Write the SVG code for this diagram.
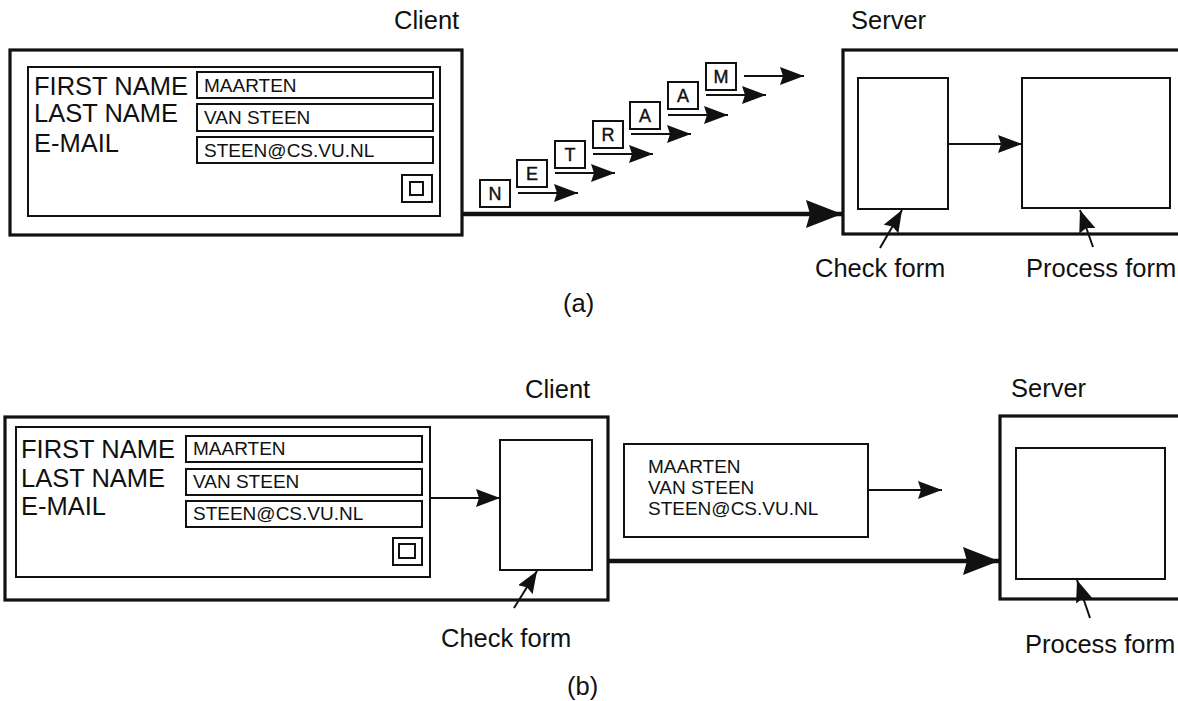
<svg xmlns="http://www.w3.org/2000/svg" width="1178" height="701" viewBox="0 0 1178 701">
<style>
text{font-family:"Liberation Sans",Arial,Helvetica,sans-serif;fill:#111}
.t24{font-size:25.5px}
.t18{font-size:19px}
.t17{font-size:18px;stroke:#111;stroke-width:0.4}
.bx3{fill:#fff;stroke:#111;stroke-width:3.2}
.bx2{fill:#fff;stroke:#111;stroke-width:2}
.ln{stroke:#111;stroke-width:2;fill:none}
.thick{stroke:#111;stroke-width:4.5;fill:none}
.lt{text-anchor:middle}
</style>
<defs>
<marker id="ah" markerUnits="userSpaceOnUse" markerWidth="24" markerHeight="18" refX="24" refY="9" orient="auto"><path d="M0,0 L24,9 L0,18 L3,9 Z" fill="#111"/></marker>
<marker id="big" markerUnits="userSpaceOnUse" markerWidth="36" markerHeight="28" refX="36" refY="14" orient="auto"><path d="M0,0 L36,14 L0,28 L4,14 Z" fill="#111"/></marker>
<marker id="ptr" markerUnits="userSpaceOnUse" markerWidth="22" markerHeight="17" refX="22" refY="8.5" orient="auto"><path d="M0,0 L22,8.5 L0,17 L3,8.5 Z" fill="#111"/></marker>
</defs>
<rect width="1178" height="701" fill="#fff"/>

<!-- ===== (a) ===== -->
<text class="t24" x="394" y="29">Client</text>
<text class="t24" x="851" y="29">Server</text>

<g id="a-client">
<rect class="bx3" x="10" y="50" width="452" height="185"/>
<rect class="bx2" x="28" y="67" width="412" height="149"/>
<text class="t24" x="34" y="95">FIRST NAME</text>
<text class="t24" x="34" y="122">LAST NAME</text>
<text class="t24" x="34" y="152">E-MAIL</text>
<rect class="bx2" x="197" y="72" width="236" height="26"/>
<rect class="bx2" x="197" y="104" width="236" height="27"/>
<rect class="bx2" x="197" y="137" width="236" height="26"/>
<text class="t18" x="204" y="92">MAARTEN</text>
<text class="t18" x="204" y="124">VAN STEEN</text>
<text class="t18" x="204" y="157">STEEN@CS.VU.NL</text>
<rect class="bx2" x="402" y="175" width="30" height="27"/>
<rect class="bx2" x="410" y="182" width="13" height="13"/>
</g>

<g id="a-letters">
<rect class="bx2" x="480" y="180" width="30" height="27"/><text class="t17 lt" x="495" y="200">N</text>
<rect class="bx2" x="517" y="160" width="30" height="27"/><text class="t17 lt" x="532" y="180">E</text>
<rect class="bx2" x="555" y="141" width="30" height="27"/><text class="t17 lt" x="570" y="161">T</text>
<rect class="bx2" x="593" y="121" width="30" height="27"/><text class="t17 lt" x="608" y="141">R</text>
<rect class="bx2" x="630" y="102" width="30" height="27"/><text class="t17 lt" x="645" y="122">A</text>
<rect class="bx2" x="668" y="82" width="30" height="27"/><text class="t17 lt" x="683" y="102">A</text>
<rect class="bx2" x="706" y="63" width="30" height="27"/><text class="t17 lt" x="721" y="83">M</text>
</g>

<g id="a-server">
<rect class="bx3" x="843" y="50" width="340" height="184"/>
<rect class="bx2" x="858" y="78" width="90" height="131"/>
<rect class="bx2" x="1022" y="78" width="148" height="130"/>
</g>
<text class="t24" x="815" y="277">Check form</text>
<text class="t24" x="1026" y="277">Process form</text>
<text class="t24" x="563" y="312">(a)</text>

<!-- ===== (b) ===== -->
<text class="t24" x="525" y="398">Client</text>
<text class="t24" x="1011" y="397">Server</text>

<g id="b-client">
<rect class="bx3" x="5" y="417" width="603" height="183"/>
<rect class="bx2" x="16" y="427" width="414" height="150"/>
<text class="t24" x="21" y="458">FIRST NAME</text>
<text class="t24" x="21" y="487">LAST NAME</text>
<text class="t24" x="21" y="515">E-MAIL</text>
<rect class="bx2" x="186" y="436" width="236" height="26"/>
<rect class="bx2" x="186" y="469" width="236" height="26"/>
<rect class="bx2" x="186" y="501" width="236" height="26"/>
<text class="t18" x="193" y="455">MAARTEN</text>
<text class="t18" x="193" y="488">VAN STEEN</text>
<text class="t18" x="193" y="520">STEEN@CS.VU.NL</text>
<rect class="bx2" x="393" y="538" width="29" height="27"/>
<rect class="bx2" x="399" y="544" width="16" height="14"/>
<rect class="bx2" x="500" y="440" width="92" height="130"/>
</g>

<g id="b-message">
<rect class="bx2" x="624" y="444" width="244" height="93"/>
<text class="t18" x="648" y="473">MAARTEN</text>
<text class="t18" x="648" y="494">VAN STEEN</text>
<text class="t18" x="648" y="515">STEEN@CS.VU.NL</text>
</g>

<g id="b-server">
<rect class="bx3" x="1000" y="416" width="183" height="183"/>
<rect class="bx2" x="1016" y="448" width="149" height="131"/>
</g>
<text class="t24" x="441" y="647">Check form</text>
<text class="t24" x="1025" y="653">Process form</text>
<text class="t24" x="567" y="695">(b)</text>

<g id="connectors">
<!-- (a) letter arrows -->
<line class="ln" x1="518" y1="193" x2="578" y2="193" marker-end="url(#ah)"/>
<line class="ln" x1="555" y1="173" x2="615" y2="173" marker-end="url(#ah)"/>
<line class="ln" x1="593" y1="154" x2="653" y2="154" marker-end="url(#ah)"/>
<line class="ln" x1="631" y1="134" x2="691" y2="134" marker-end="url(#ah)"/>
<line class="ln" x1="668" y1="115" x2="728" y2="115" marker-end="url(#ah)"/>
<line class="ln" x1="706" y1="95" x2="766" y2="95" marker-end="url(#ah)"/>
<line class="ln" x1="744" y1="76" x2="804" y2="76" marker-end="url(#ah)"/>
<!-- (a) main -->
<line class="thick" x1="462" y1="214" x2="842" y2="214" marker-end="url(#big)"/>
<line class="ln" x1="948" y1="144" x2="1022" y2="144" marker-end="url(#ah)"/>
<line class="ln" x1="880" y1="248" x2="902" y2="210" marker-end="url(#ptr)"/>
<line class="ln" x1="1093" y1="247" x2="1080" y2="210" marker-end="url(#ptr)"/>
<!-- (b) -->
<line class="ln" x1="430" y1="498" x2="500" y2="498" marker-end="url(#ah)"/>
<line class="ln" x1="514" y1="608" x2="537" y2="571" marker-end="url(#ptr)"/>
<line class="ln" x1="868" y1="490" x2="942" y2="490" marker-end="url(#ah)"/>
<line class="thick" x1="608" y1="561" x2="999" y2="561" marker-end="url(#big)"/>
<line class="ln" x1="1090" y1="618" x2="1077" y2="580" marker-end="url(#ptr)"/>
</g>
</svg>
